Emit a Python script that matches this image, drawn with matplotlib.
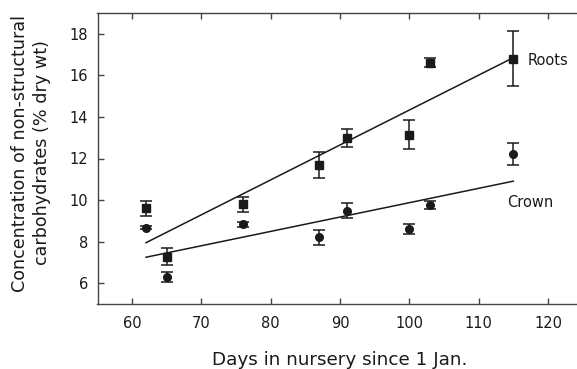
import matplotlib
matplotlib.use("Agg")
import matplotlib.pyplot as plt

plt.rcParams['font.family'] = ['DejaVu Sans']

days = [62, 65, 76, 87, 91, 100, 103, 115]
roots = [9.6, 7.28, 9.81, 11.68, 12.99, 13.15, 16.61, 16.8]
roots_err = [0.35, 0.42, 0.36, 0.62, 0.42, 0.7, 0.22, 1.33]
crown = [8.67, 6.29, 8.83, 8.22, 9.49, 8.61, 9.77, 12.22]
crown_err = [0.08, 0.24, 0.12, 0.36, 0.36, 0.25, 0.19, 0.54]

fit_x = [62, 115]
roots_fit = [7.95, 16.85]
crown_fit = [7.25, 10.91]

xticks = [60, 70, 80, 90, 100, 110, 120]
yticks = [6, 8, 10, 12, 14, 16, 18]

W, H = 577, 369
fig = plt.figure(figsize=(W / 100, H / 100), dpi=100)
left, right, top, bottom = 97.5, 582.6, 13, 304
ax = fig.add_axes([left / W, 1 - bottom / H, (right - left) / W, (bottom - top) / H])

c = '#1a1a1a'
ax.errorbar(days, roots, yerr=roots_err, fmt='s', color=c, ms=5.5, capsize=4.5,
            elinewidth=1.1, capthick=1.1)
ax.errorbar(days, crown, yerr=crown_err, fmt='o', color=c, ms=5.5, capsize=4.5,
            elinewidth=1.1, capthick=1.1)
ax.plot(fit_x, roots_fit, color=c, lw=1.1)
ax.plot(fit_x, crown_fit, color=c, lw=1.1)

ax.text(117.1, 16.72, 'Roots', fontsize=10.5, va='center', ha='left', color=c)
ax.text(114.05, 9.9, 'Crown', fontsize=10.5, va='center', ha='left', color=c)

ax.set_xlim(55, 125)
ax.set_ylim(5, 19)
ax.set_xticks(xticks)
ax.set_yticks(yticks)
ax.tick_params(direction='in', length=4, width=1, colors='#444444', labelcolor=c,
               labelsize=10.5, top=True, pad=9)
ax.tick_params(axis='y', pad=7)
ax.spines['right'].set_visible(False)
for s in ['left', 'top', 'bottom']:
    ax.spines[s].set_color('#444444')
    ax.spines[s].set_linewidth(1)

ax.set_xlabel('Days in nursery since 1 Jan.', fontsize=13.2, color=c)
ax.xaxis.set_label_coords((340 - left) / (right - left), (bottom - 360) / (bottom - top))
ax.xaxis.label.set_va('center')
ax.set_ylabel('Concentration of non-structural\ncarbohydrates (% dry wt)', fontsize=12.6,
              color=c, linespacing=1.33)
ax.yaxis.set_label_coords((31 - left) / (right - left), (bottom - 153) / (bottom - top))
ax.yaxis.label.set_va('center')

fig.savefig('out.png', dpi=100)
